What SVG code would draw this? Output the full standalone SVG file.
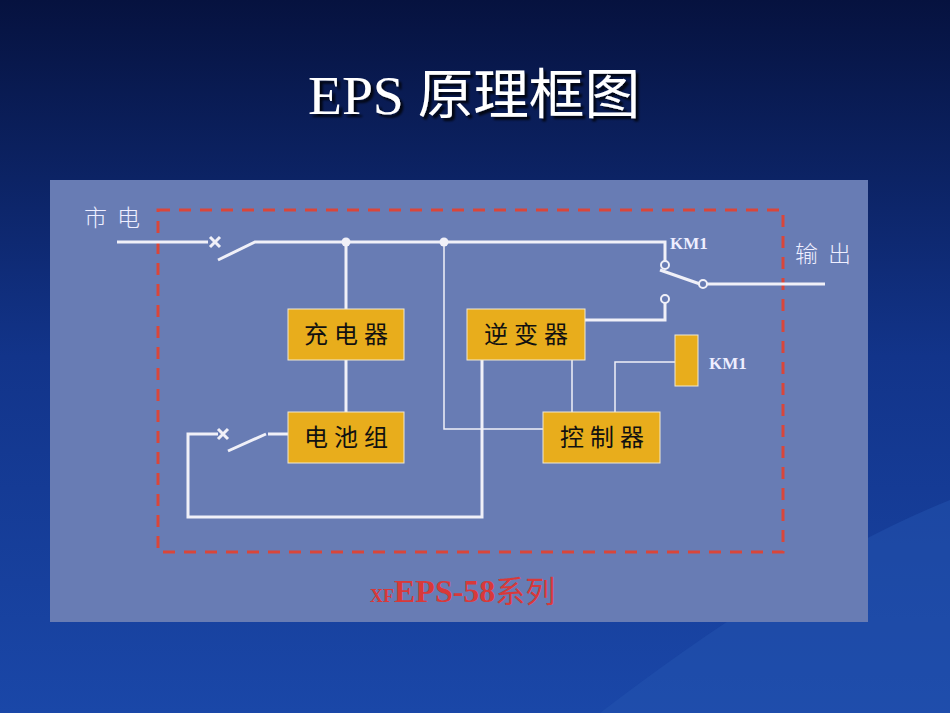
<svg xmlns="http://www.w3.org/2000/svg" width="950" height="713" viewBox="0 0 950 713">
<defs>
<linearGradient id="bg" x1="0" y1="0" x2="0" y2="1">
<stop offset="0" stop-color="#06123f"/><stop offset="0.5" stop-color="#12348a"/><stop offset="1" stop-color="#1a47a8"/>
</linearGradient>
<filter id="sh"><feDropShadow dx="3" dy="3" stdDeviation="1" flood-color="#000" flood-opacity="0.8"/></filter>
</defs>
<style>
.w{stroke:#f0f0f8;stroke-width:3;fill:none}
.t{stroke:#f0f0f8;stroke-width:1.5;fill:none}
.box{fill:#e8ad1c;stroke:#f0e8d0;stroke-width:1}
.bl{font-family:"Noto Sans CJK SC",sans-serif;font-size:24px;fill:#111;letter-spacing:6px}
.wl{font-family:"Noto Sans CJK SC",sans-serif;font-size:23px;fill:#eef;font-weight:300;letter-spacing:10px}
.km{font-family:"Liberation Serif",serif;font-size:17px;font-weight:bold;fill:#eef}
</style>
<rect width="950" height="713" fill="url(#bg)"/>
<path d="M600 713 Q800 560 950 500 L950 713Z" fill="#2353b0" opacity="0.5"/>
<text x="308" y="114" textLength="332" lengthAdjust="spacingAndGlyphs" font-family="Liberation Serif,'Noto Sans CJK SC',serif" font-size="54" fill="#fff" filter="url(#sh)">EPS 原理框图</text>
<rect x="50" y="180" width="818" height="442" fill="#687cb4"/>
<rect x="158" y="210" width="625" height="342" fill="none" stroke="#d9463a" stroke-width="3" stroke-dasharray="12,9"/>
<g id="connectors">
<path class="w" d="M117 242H208M218 260L255 242H665V262M660 270L700 284M707 284H825M665 303V320H585M346 242V309M346 360V412M482 360V517H188V434H218M228 451L266 434M268 434H288"/>
<path class="w" d="M210 237l10 10M220 237l-10 10M218 429l10 10M228 429l-10 10"/>
<path class="t" d="M444 242V429H543M572 360V412M615 412V362H675"/>
<circle cx="346" cy="242" r="4.5" fill="#f0f0f8"/><circle cx="444" cy="242" r="4.5" fill="#f0f0f8"/>
<circle cx="665" cy="265" r="4" fill="#687cb4" stroke="#f0f0f8" stroke-width="2"/>
<circle cx="703" cy="284" r="4" fill="#687cb4" stroke="#f0f0f8" stroke-width="2"/>
<circle cx="665" cy="299" r="4" fill="#687cb4" stroke="#f0f0f8" stroke-width="2"/>
</g>
<g id="charger"><rect class="box" x="288" y="309" width="116" height="51"/><text class="bl" x="349" y="343" text-anchor="middle">充电器</text></g>
<g id="inverter"><rect class="box" x="467" y="309" width="118" height="51"/><text class="bl" x="529" y="343" text-anchor="middle">逆变器</text></g>
<g id="battery"><rect class="box" x="288" y="412" width="116" height="51"/><text class="bl" x="349" y="446" text-anchor="middle">电池组</text></g>
<g id="controller"><rect class="box" x="543" y="412" width="117" height="51"/><text class="bl" x="605" y="446" text-anchor="middle">控制器</text></g>
<g id="coil"><rect class="box" x="675" y="335" width="23" height="51"/><text class="km" x="709" y="369">KM1</text></g>
<text class="km" x="670" y="249">KM1</text>
<text class="wl" x="84" y="226">市电</text>
<text class="wl" x="795" y="262">输出</text>
<text x="370" y="602" fill="#d8393a" font-family="Liberation Serif,'Noto Sans CJK SC',serif"><tspan font-size="18" font-weight="bold">XF</tspan><tspan font-size="32" font-weight="bold">EPS-58</tspan><tspan font-size="30">系列</tspan></text>
</svg>
